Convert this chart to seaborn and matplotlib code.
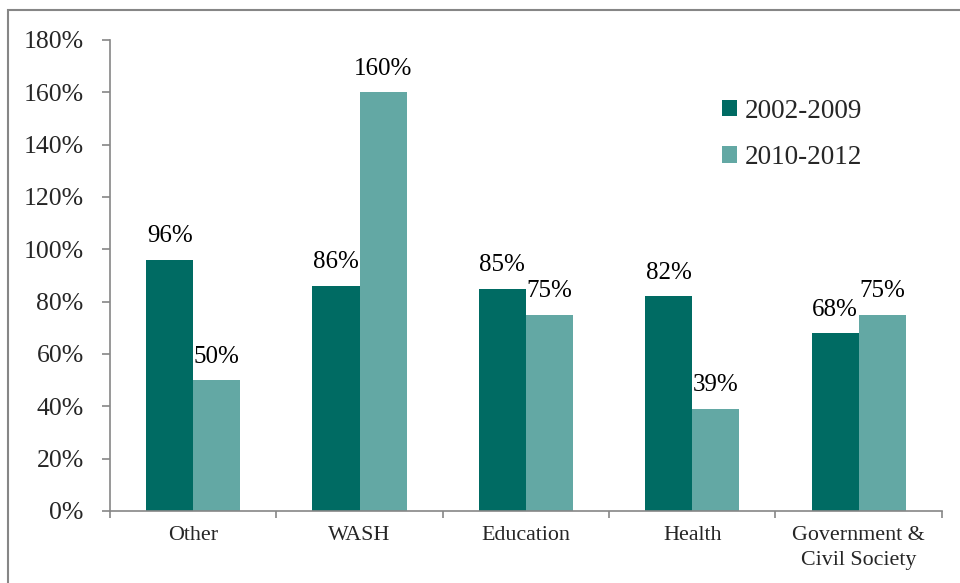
import matplotlib
matplotlib.use("Agg")
import matplotlib.pyplot as plt
import seaborn as sns
import pandas as pd
from matplotlib.patches import Rectangle, Patch

categories = ["Other", "WASH", "Education", "Health", "Government &\nCivil Society"]
series_names = ["2002-2009", "2010-2012"]
values_2002_2009 = [0.96, 0.86, 0.85, 0.82, 0.68]
values_2010_2012 = [0.50, 1.60, 0.75, 0.39, 0.75]
y_ticks = [0, 0.2, 0.4, 0.6, 0.8, 1.0, 1.2, 1.4, 1.6, 1.8]
y_tick_labels = ["0%", "20%", "40%", "60%", "80%", "100%", "120%", "140%", "160%", "180%"]

colors = ["#006B63", "#63A8A4"]

df = pd.DataFrame({
    "category": categories * 2,
    "period": [series_names[0]] * len(categories) + [series_names[1]] * len(categories),
    "value": values_2002_2009 + values_2010_2012,
})

sns.set_theme(style="white")
plt.rcParams["font.family"] = ["Liberation Serif", "DejaVu Serif"]

fig = plt.figure(figsize=(9.6, 5.83), dpi=100)
ax = fig.add_axes([0.1146, 0.1235, 0.8665, 0.8079])

sns.barplot(data=df, x="category", y="value", hue="period", order=categories,
            hue_order=series_names, palette=colors, width=0.566, gap=0,
            saturation=1, ax=ax, legend=False, errorbar=None, linewidth=0)

for cont, vals in zip(ax.containers, [values_2002_2009, values_2010_2012]):
    ax.bar_label(cont, labels=[f"{round(v*100)}%" for v in vals], padding=9,
                 fontsize=18, color="black")

ax.set_ylim(0, 1.8)
ax.set_xlim(-0.5, len(categories) - 0.5)
ax.set_yticks(y_ticks)
ax.set_yticklabels(y_tick_labels, fontsize=18.5)
ax.set_xticks([i - 0.5 for i in range(len(categories) + 1)])
ax.set_xticklabels([])
ax.set_xticks(range(len(categories)), minor=True)
ax.set_xticklabels(categories, minor=True, fontsize=15.8, linespacing=1.4)
ax.tick_params(axis="x", which="minor", length=0, pad=11)
ax.tick_params(axis="x", which="major", direction="out", length=5, width=1.2, color="#868686", bottom=True)
ax.tick_params(axis="y", direction="out", length=6, width=1.2, color="#868686", pad=13, left=True)
ax.set_xlabel("")
ax.set_ylabel("")
for s in ["top", "right"]:
    ax.spines[s].set_visible(False)
for s in ["left", "bottom"]:
    ax.spines[s].set_color("#868686")
    ax.spines[s].set_linewidth(1.2)

handles = [Patch(facecolor=c, edgecolor="none") for c in colors]
fig.legend(handles, series_names, loc="upper left", bbox_to_anchor=(0.752, 0.831),
           frameon=False, fontsize=19.5, handlelength=0.55, handleheight=0.55,
           handletextpad=0.3, labelspacing=0.8, borderaxespad=0, borderpad=0)

fig.patches.append(Rectangle((8/960, -0.1), 1.2, 1 - 10/583 + 0.1, transform=fig.transFigure,
                             fill=False, edgecolor="#868686", linewidth=1.5))

fig.savefig("out.png", dpi=100)
